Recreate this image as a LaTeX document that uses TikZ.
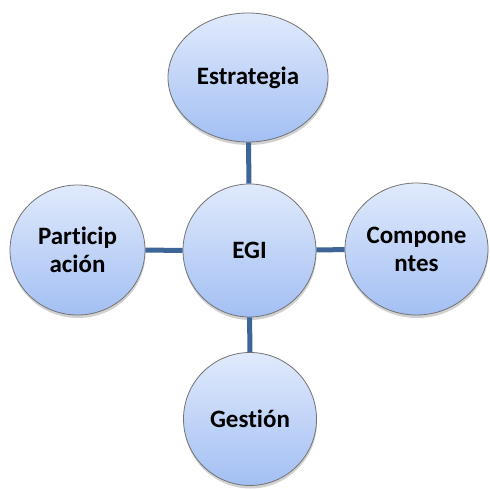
\documentclass[tikz,border=0pt]{standalone}
\usepackage{fontspec}
\setmainfont[Ligatures=NoCommon]{Carlito}
\usepackage{tikz}
\usetikzlibrary{positioning, shapes.geometric, shadows}

\definecolor{bubbletop}{HTML}{E0EAFC}
\definecolor{bubblebot}{HTML}{A3BFF3}
\definecolor{linkblue}{HTML}{3D6597}

\begin{document}
\begin{tikzpicture}[x=1pt,y=-1pt,
        bubble/.style={circle,draw=black!55,line width=0.8pt,
            top color=bubbletop,bottom color=bubblebot,
            drop shadow={shadow xshift=0.5pt,shadow yshift=-3pt,opacity=0.3,fill=black!60},
            inner sep=0pt,font=\bfseries\fontsize{25}{28}\selectfont,align=center},
        oval/.style={bubble,ellipse},
        link/.style={draw=linkblue,line width=5pt}]

        \useasboundingbox (0,0) rectangle (490,489);

        \node[bubble,minimum size=133pt] (egi) at (249.5,250.5) {EGI};
        \node[oval,minimum width=160pt,minimum height=129pt] (estr) at (248,77.5) {Estrategia};
        \node[oval,minimum width=143pt,minimum height=132pt] (comp) at (416.5,249) {Compone\\ntes};
        \node[bubble,minimum size=133pt] (gest) at (250,419) {Gestión};
        \node[oval,minimum width=135pt,minimum height=130pt] (part) at (77.5,250) {Particip\\ación};

        \path (estr) edge [link] (egi)
              (part) edge [link] (egi)
              (egi)  edge [link] (comp)
              (egi)  edge [link] (gest);
\end{tikzpicture}
\end{document}
